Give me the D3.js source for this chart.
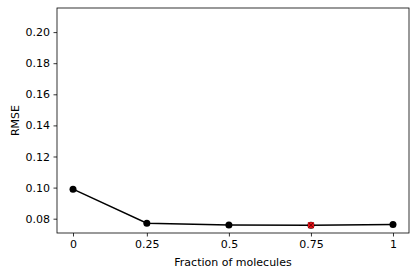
<!DOCTYPE html>
<html>
<head>
<meta charset="utf-8">
<script src="https://cdn.jsdelivr.net/npm/d3@7"></script>
<style>
body{margin:0;background:#fff}
text{font-family:"DejaVu Sans",sans-serif}
</style>
</head>
<body>
<svg id="chart" width="418" height="275"></svg>
<script>
// data
var fractions=[0.025,0.25,0.5,0.75,1];
var rmse=[0.0990,0.0771,0.0759,0.0758,0.0763];
var xTickVals=[0.025,0.25,0.5,0.75,1];
var xTickLabels=["0","0.25","0.5","0.75","1"];
var yTicks=[0.08,0.10,0.12,0.14,0.16,0.18,0.20];
var bestIndex=3;

var svg=d3.select("#chart");
var mLeft=57,mRight=409,mTop=8,mBottom=233;

var x=d3.scaleLinear().domain([-0.0238,1.0488]).range([mLeft,mRight]);
var y=d3.scaleLinear().domain([0.0708,0.2155]).range([mBottom,mTop]);

var xAxis=svg.append("g").attr("transform","translate(0,"+mBottom+")")
  .call(d3.axisBottom(x).tickValues(xTickVals).tickFormat(function(d,i){return xTickLabels[i]}).tickSize(3.5).tickPadding(3.5));
var yAxis=svg.append("g").attr("transform","translate("+mLeft+",0)")
  .call(d3.axisLeft(y).tickValues(yTicks).tickFormat(d3.format(".2f")).tickSize(3.5).tickPadding(3.5));
[xAxis,yAxis].forEach(function(a){
  a.select(".domain").remove();
  a.selectAll("line").attr("stroke","#000").attr("stroke-width",0.8);
  a.selectAll("text").attr("font-size","11px").attr("fill","#000").attr("font-family","DejaVu Sans");
});

svg.append("rect").attr("x",mLeft).attr("y",mTop).attr("width",mRight-mLeft).attr("height",mBottom-mTop)
  .attr("fill","none").attr("stroke","#000").attr("stroke-width",0.8);

var line=d3.line().x(function(d,i){return x(fractions[i])}).y(function(d){return y(d)});
svg.append("path").datum(rmse).attr("d",line).attr("fill","none").attr("stroke","#000").attr("stroke-width",1.5);

svg.selectAll("circle.pt").data(rmse).enter().append("circle").attr("class","pt")
  .attr("cx",function(d,i){return x(fractions[i])}).attr("cy",function(d){return y(d)})
  .attr("r",3.5).attr("fill","#000");

// highlighted point
var bx=x(fractions[bestIndex]),by=y(rmse[bestIndex]);
svg.append("rect").attr("x",bx-3).attr("y",by-3).attr("width",6).attr("height",6).attr("fill","#e8141a");
svg.append("path").attr("d","M"+(bx-2.5)+","+(by-2.5)+"L"+(bx+2.5)+","+(by+2.5)+"M"+(bx-2.5)+","+(by+2.5)+"L"+(bx+2.5)+","+(by-2.5))
  .attr("stroke","#6a0000").attr("stroke-width",1);

svg.append("text").attr("x",(mLeft+mRight)/2).attr("y",266).attr("text-anchor","middle")
  .attr("font-size","11px").text("Fraction of molecules");
svg.append("text").attr("transform","translate(18.5,"+((mTop+mBottom)/2)+") rotate(-90)").attr("text-anchor","middle")
  .attr("font-size","11px").text("RMSE");
</script>
</body>
</html>
